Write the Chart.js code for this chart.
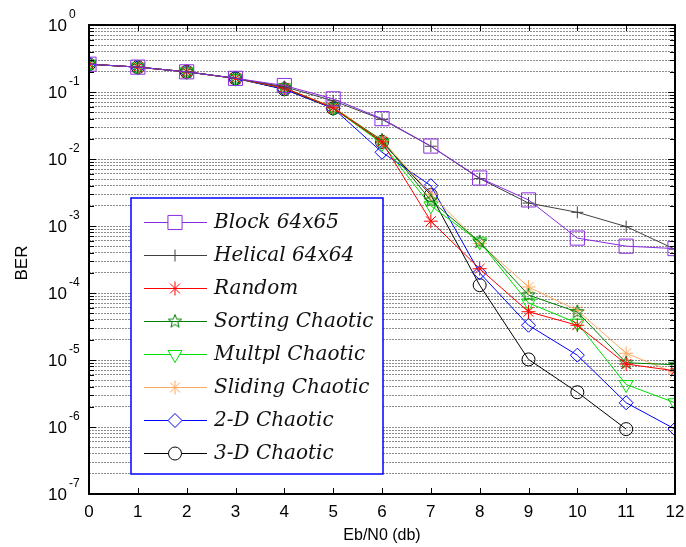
<!DOCTYPE html>
<html>
<head>
<meta charset="utf-8">
<script src="https://cdn.jsdelivr.net/npm/chart.js@4.4.1/dist/chart.umd.min.js"></script>
<style>
  body { margin: 0; background: #fff; }
</style>
</head>
<body>
<canvas id="berChart" width="686" height="547"></canvas>
<script>
    // Eb/N0 values (db)
    const snr = [0, 1, 2, 3, 4, 5, 6, 7, 8, 9, 10, 11, 12];

    const block64x65   = [0.26, 0.235, 0.2, 0.16, 0.125, 0.079, 0.04, 0.0156, 0.0052, 0.00245, 0.00066, 0.0005, 0.00046];
    const helical64x64 = [0.26, 0.235, 0.2, 0.16, 0.12, 0.074, 0.039, 0.0155, 0.0051, 0.0022, 0.0016, 0.00098, 0.00045];
    const randomIlv    = [0.26, 0.235, 0.2, 0.16, 0.115, 0.058, 0.018, 0.00118, 0.00023, 0.0000525, 0.000033, 0.0000087, 0.0000069];
    const sortingChaos = [0.26, 0.235, 0.2, 0.16, 0.115, 0.058, 0.019, 0.0024, 0.00058, 0.000093, 0.000052, 0.0000091, 0.0000085];
    const multplChaos  = [0.26, 0.235, 0.2, 0.16, 0.115, 0.058, 0.017, 0.002, 0.00058, 0.000071, 0.0000355, 0.0000043, 0.0000023];
    const slidingChaos = [0.26, 0.235, 0.2, 0.16, 0.115, 0.06, 0.019, 0.003, 0.00055, 0.000123, 0.000055, 0.0000126, 0.0000064];
    const chaos2D      = [0.26, 0.235, 0.2, 0.16, 0.11, 0.057, 0.0126, 0.004, 0.0002, 0.000033, 0.0000118, 0.0000023, 0.00000093];
    const chaos3D      = [0.26, 0.235, 0.2, 0.16, 0.11, 0.057, 0.018, 0.0029, 0.000131, 0.0000102, 0.0000033, 0.00000093, null];

    const seriesNames = ['Block 64x65', 'Helical 64x64', 'Random', 'Sorting Chaotic',
                         'Multpl Chaotic', 'Sliding Chaotic', '2-D Chaotic', '3-D Chaotic'];

    // exponents for the y tick labels (10^0 ... 10^-7)
    const yExponents = [0, -1, -2, -3, -4, -5, -6, -7];

    // pentagram marker for "Sorting Chaotic"
    function makePentagram(color, r) {
        const c = document.createElement('canvas');
        const s = r * 2 + 4;
        c.width = s; c.height = s;
        const g = c.getContext('2d');
        g.strokeStyle = color;
        g.lineWidth = 1;
        g.beginPath();
        for (let i = 0; i < 10; i++) {
            const rad = i % 2 === 0 ? r : r * 0.42;
            const a = -Math.PI / 2 + i * Math.PI / 5;
            const px = s / 2 + rad * Math.cos(a);
            const py = s / 2 + rad * Math.sin(a);
            if (i === 0) g.moveTo(px, py); else g.lineTo(px, py);
        }
        g.closePath();
        g.stroke();
        return c;
    }

    function series(label, data, color, style, radius, extra) {
        return Object.assign({
            label: label,
            data: data,
            borderColor: color,
            backgroundColor: 'rgba(0,0,0,0)',
            borderWidth: 1,
            pointStyle: style,
            pointRadius: radius,
            pointBorderColor: color,
            pointBorderWidth: 1,
            pointBackgroundColor: 'rgba(0,0,0,0)',
            tension: 0,
            spanGaps: false
        }, extra || {});
    }

    const datasets = [
        series(seriesNames[0], block64x65, '#8a2be2', 'rect', 10),
        series(seriesNames[1], helical64x64, '#404040', 'cross', 6),
        series(seriesNames[2], randomIlv, '#ff0000', 'star', 7),
        series(seriesNames[3], sortingChaos, '#008000', makePentagram('#008000', 7), 7),
        series(seriesNames[4], multplChaos, '#00e000', 'triangle', 8, { pointRotation: 180 }),
        series(seriesNames[5], slidingChaos, '#ffa860', 'star', 7),
        series(seriesNames[6], chaos2D, '#0000ff', 'rectRot', 7),
        series(seriesNames[7], chaos3D, '#000000', 'circle', 6.5)
    ];

    // Frame, inward ticks, tick labels, axis titles and legend box
    const decorations = {
        id: 'decorations',
        afterDraw(chart) {
            const ctx = chart.ctx;
            const area = chart.chartArea;
            const xs = chart.scales.x;
            const ys = chart.scales.y;
            ctx.save();

            // frame
            ctx.strokeStyle = '#000';
            ctx.lineWidth = 2;
            ctx.strokeRect(area.left, area.top, area.right - area.left, area.bottom - area.top);

            // x ticks (bottom and top, inward)
            ctx.lineWidth = 1;
            ctx.beginPath();
            snr.forEach(v => {
                const px = Math.round(xs.getPixelForValue(v)) + 0.5;
                ctx.moveTo(px, area.bottom); ctx.lineTo(px, area.bottom - 6);
                ctx.moveTo(px, area.top); ctx.lineTo(px, area.top + 6);
            });
            // y ticks (left and right, inward)
            yExponents.forEach(e => {
                for (let m = 1; m <= 9; m++) {
                    const v = m * Math.pow(10, e);
                    if (v > 1.0001 || (e === -7 && m > 1) || (e === 0 && m > 1)) continue;
                    const py = Math.round(ys.getPixelForValue(v)) + 0.5;
                    const len = m === 1 ? 7 : 5;
                    ctx.moveTo(area.left, py); ctx.lineTo(area.left + len, py);
                    ctx.moveTo(area.right, py); ctx.lineTo(area.right - len, py);
                }
            });
            ctx.stroke();

            // x tick labels
            ctx.fillStyle = '#000';
            ctx.font = '17px "Liberation Sans", Arial, sans-serif';
            ctx.textAlign = 'center';
            ctx.textBaseline = 'middle';
            snr.forEach(v => ctx.fillText(String(v), xs.getPixelForValue(v), 512));

            // y tick labels 10^n
            yExponents.forEach(e => {
                const py = ys.getPixelForValue(Math.pow(10, e));
                ctx.textAlign = 'left';
                ctx.font = '17px "Liberation Sans", Arial, sans-serif';
                ctx.fillText('10', 48, py + 1);
                ctx.font = '12px "Liberation Sans", Arial, sans-serif';
                ctx.fillText(String(e), 69, py - 10);
            });

            // axis titles
            ctx.font = '16px "Liberation Sans", Arial, sans-serif';
            ctx.textAlign = 'center';
            ctx.fillText('Eb/N0 (db)', (area.left + area.right) / 2, 536);
            ctx.save();
            ctx.translate(22, 263);
            ctx.rotate(-Math.PI / 2);
            ctx.font = '17px "Liberation Sans", Arial, sans-serif';
            ctx.fillText('BER', 0, 0);
            ctx.restore();

            // legend box
            const box = { left: 131, top: 198, right: 383, bottom: 474 };
            ctx.fillStyle = '#fff';
            ctx.fillRect(box.left, box.top, box.right - box.left, box.bottom - box.top);
            ctx.strokeStyle = '#0000ff';
            ctx.lineWidth = 1.5;
            ctx.strokeRect(box.left, box.top, box.right - box.left, box.bottom - box.top);

            chart.data.datasets.forEach((ds, i) => {
                const ly = 222 + i * 33;
                ctx.strokeStyle = ds.borderColor;
                ctx.lineWidth = 1;
                ctx.beginPath();
                ctx.moveTo(144, ly + 0.5); ctx.lineTo(207, ly + 0.5);
                ctx.stroke();
                ctx.fillStyle = '#fff';
                ctx.strokeStyle = ds.borderColor;
                Chart.helpers.drawPoint(ctx, {
                    pointStyle: ds.pointStyle,
                    radius: ds.pointRadius,
                    rotation: ds.pointRotation || 0,
                    borderWidth: 1
                }, 175, ly + 0.5);
                ctx.fillStyle = '#111';
                ctx.font = 'italic 20px "DejaVu Serif", "Liberation Serif", serif';
                ctx.textAlign = 'left';
                ctx.fillText(ds.label, 214, ly + 1);
            });
            ctx.restore();
        }
    };

    const ctx = document.getElementById('berChart').getContext('2d');
    const berChart = new Chart(ctx, {
        type: 'line',
        data: { labels: snr, datasets: datasets },
        options: {
            responsive: false,
            animation: false,
            layout: { padding: { left: 89, right: 11, top: 25, bottom: 53 } },
            plugins: { legend: { display: false }, tooltip: { enabled: false } },
            scales: {
                x: {
                    type: 'linear',
                    min: 0,
                    max: 12,
                    grid: { display: false },
                    border: { display: false },
                    ticks: { display: false },
                    afterFit: s => { s.height = 0; }
                },
                y: {
                    type: 'logarithmic',
                    min: 1e-7,
                    max: 1,
                    border: { display: false, dash: [2, 1] },
                    ticks: { display: false },
                    grid: { color: '#8c8c8c', lineWidth: 1, drawTicks: false },
                    afterBuildTicks: s => {
                        const t = [];
                        yExponents.forEach(e => {
                            for (let m = 1; m <= 9; m++) {
                                const v = m * Math.pow(10, e);
                                if (v <= 1.0001) t.push({ value: v });
                            }
                        });
                        s.ticks = t;
                    },
                    afterFit: s => { s.width = 0; }
                }
            }
        },
        plugins: [decorations]
    });
</script>
</body>
</html>
